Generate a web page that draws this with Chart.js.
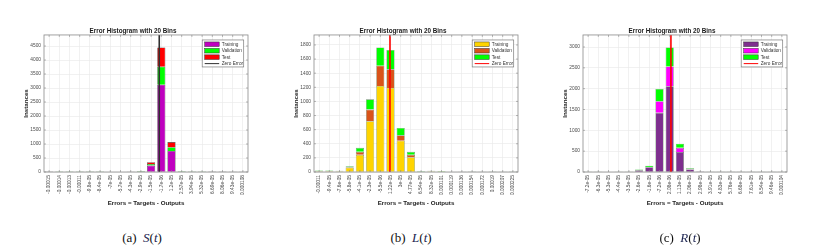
<!DOCTYPE html>
<html><head><meta charset="utf-8">
<script src="https://cdn.jsdelivr.net/npm/chart.js@4.4.1/dist/chart.umd.min.js"></script>
<style>
html,body{margin:0;padding:0;background:#fff;width:822px;height:251px;overflow:hidden}
.panel{position:absolute;top:0;width:270px;height:215px}
.panel canvas{display:block}
.cap{position:absolute;top:230px;line-height:15px;font-family:'Liberation Serif','Times New Roman',serif;font-size:13px;color:#111;white-space:nowrap;transform:translateX(-50%)}
.cap i{color:#1b2350}
</style></head><body>
<div class="panel" style="left:0px"><canvas id="c0" width="270" height="215" style="width:270px;height:215px"></canvas></div>
<div class="panel" style="left:270px"><canvas id="c1" width="270" height="215" style="width:270px;height:215px"></canvas></div>
<div class="panel" style="left:539px"><canvas id="c2" width="270" height="215" style="width:270px;height:215px"></canvas></div>
<div class="cap" style="left:142px">(a)&nbsp;&nbsp;<i>S</i>(<i>t</i>)</div>
<div class="cap" style="left:411px">(b)&nbsp;&nbsp;<i>L</i>(<i>t</i>)</div>
<div class="cap" style="left:680px">(c)&nbsp;&nbsp;<i>R</i>(<i>t</i>)</div>
<script>
// ---------- DATA ----------
const seriesNames = ['Training', 'Validation', 'Test', 'Zero Error'];

const sLabels = ['-0.00015','-0.00014','-0.00013','-0.00011','-9.8e-05','-8.4e-05','-7e-05','-5.7e-05','-4.3e-05','-2.9e-05','-1.5e-05','-1.7e-06','1.2e-05','2.57e-05','3.94e-05','5.32e-05','6.69e-05','8.06e-05','9.43e-05','0.000108'];
const sTraining   = [2,3,3,3,4,4,5,6,8,15,230,3120,750,10,4,4,3,3,2,2];
const sValidation = [3,3,3,3,3,3,3,4,10,20,55,640,135,15,8,3,2,2,2,2];
const sTest       = [0,0,0,0,0,0,0,1,2,5,65,690,185,2,1,1,1,0,0,0];

const lLabels = ['-0.00011','-9.4e-05','-7.6e-05','-5.8e-05','-4.1e-05','-2.3e-05','-5.5e-06','1.22e-05','3e-05','4.77e-05','6.54e-05','8.32e-05','0.000101','0.000119','0.000136','0.000154','0.000172','0.00019','0.000207','0.000225'];
const lTraining   = [10,12,8,62,243,720,1220,1190,443,210,4,8,7,2,3,1,1,1,1,1];
const lValidation = [3,3,3,8,43,165,285,265,77,33,1,2,1,0,1,0,0,0,0,0];
const lTest       = [8,8,6,12,57,145,260,275,105,43,4,6,5,1,2,1,0,1,0,1];

const rLabels = ['-7.2e-05','-6.3e-05','-5.3e-05','-4.4e-05','-3.5e-05','-2.6e-05','-1.6e-05','-7.2e-06','2.08e-06','1.13e-05','2.06e-05','2.98e-05','3.91e-05','4.83e-05','5.76e-05','6.68e-05','7.61e-05','8.54e-05','9.46e-05','0.000104'];
const rTraining   = [1,1,4,1,1,42,115,1420,2060,480,60,15,2,1,1,1,1,1,1,1];
const rValidation = [0,0,1,0,0,5,5,280,475,100,10,3,0,0,0,0,0,0,0,0];
const rTest       = [1,1,4,1,1,13,30,295,455,100,18,7,1,0,0,0,0,0,0,1];

const yStepSizes = [500, 200, 500];

// ---------- STYLE ----------
const FONT = "'Liberation Sans', Arial, Helvetica, sans-serif";
const styles = [
  {colors:['#bf00bf','#00ff00','#ff0000'], zero:'#303030', edge:'#3c3c3c'},
  {colors:['#ffd400','#d95319','#00ff00'], zero:'#ff0000', edge:'#6f8f6f'},
  {colors:['#7e2f8e','#ff00ff','#00ff00'], zero:'#ff0000', edge:'#5f8f5f'}
];

const matPlugin = {
  id: 'matPlugin',
  afterDatasetsDraw(chart) {
    const {ctx, chartArea: ca} = chart;
    const xs = chart.scales.x, ys = chart.scales.y;
    ctx.save();
    ctx.strokeStyle = '#8a8a8a';
    ctx.lineWidth = 0.6;
    ctx.beginPath();
    xs.ticks.forEach((t, i) => {
      const px = xs.getPixelForTick(i);
      ctx.moveTo(px, ca.bottom); ctx.lineTo(px, ca.bottom - 2);
      ctx.moveTo(px, ca.top); ctx.lineTo(px, ca.top + 2);
    });
    ys.ticks.forEach((t, i) => {
      const py = ys.getPixelForTick(i);
      ctx.moveTo(ca.left, py); ctx.lineTo(ca.left + 2, py);
      ctx.moveTo(ca.right, py); ctx.lineTo(ca.right - 2, py);
    });
    ctx.stroke();
    ctx.lineWidth = 0.8;
    ctx.strokeRect(ca.left, ca.top, ca.right - ca.left, ca.bottom - ca.top);
    // legend
    const ds = chart.data.datasets;
    const bw = 41.5, bh = 27;
    const bx = ca.right - 4.3 - bw, by = ca.top + 5;
    ctx.fillStyle = '#ffffff';
    ctx.fillRect(bx, by, bw, bh);
    ctx.strokeStyle = '#7a7a7a';
    ctx.lineWidth = 0.7;
    ctx.strokeRect(bx, by, bw, bh);
    ctx.font = '4.7px ' + FONT;
    ctx.textBaseline = 'middle';
    ctx.textAlign = 'left';
    seriesNames.forEach((name, k) => {
      const d = ds.find(q => q.label === name);
      const cy = by + 4.3 + k * 6.45;
      if (d.type === 'line') {
        ctx.strokeStyle = d.borderColor;
        ctx.lineWidth = 1;
        ctx.beginPath(); ctx.moveTo(bx + 2.5, cy); ctx.lineTo(bx + 17, cy); ctx.stroke();
      } else {
        ctx.fillStyle = d.backgroundColor;
        ctx.fillRect(bx + 2.5, cy - 2.3, 14.5, 4.6);
        ctx.strokeStyle = '#333';
        ctx.lineWidth = 0.5;
        ctx.strokeRect(bx + 2.5, cy - 2.3, 14.5, 4.6);
      }
      ctx.fillStyle = '#333';
      ctx.fillText(name, bx + 19.5, cy + 0.2);
    });
    ctx.restore();
  }
};

function makeChart(id, labels, tr, va, te, step, st) {
  const totals = tr.map((v, i) => v + va[i] + te[i]);
  const ymax = 1.1 * Math.max(...totals);
  const centers = labels.map(parseFloat);
  let z = 0;
  for (let i = 0; i < centers.length - 1; i++) {
    if (centers[i] <= 0 && centers[i + 1] > 0) { z = i + (0 - centers[i]) / (centers[i + 1] - centers[i]); break; }
  }
  const barDs = (name, data, c) => ({
    type: 'bar', label: name, data, backgroundColor: c, borderColor: st.edge, borderWidth: 0.6,
    barPercentage: 0.8, categoryPercentage: 1.0, grouped: false, stack: 'all',
    xAxisID: 'x', yAxisID: 'y', order: 1
  });
  new Chart(document.getElementById(id), {
    type: 'bar',
    data: {
      labels,
      datasets: [
        barDs(seriesNames[0], tr, st.colors[0]),
        barDs(seriesNames[1], va, st.colors[1]),
        barDs(seriesNames[2], te, st.colors[2]),
        {type: 'line', label: seriesNames[3], data: [{x: z, y: 0}, {x: z, y: ymax}], borderColor: st.zero,
         borderWidth: 1.6, pointRadius: 0, xAxisID: 'x2', yAxisID: 'y', order: 0}
      ]
    },
    options: {
      responsive: false, animation: false, devicePixelRatio: 1,
      layout: {padding: {left: 18, right: 22, top: 0, bottom: 6.3}},
      plugins: {
        legend: {display: false}, tooltip: {enabled: false},
        title: {display: true, text: 'Error Histogram with 20 Bins', color: '#1a1a1a',
                font: {family: FONT, size: 6.3, weight: 'bold'}, padding: {top: 27.4, bottom: 0}}
      },
      scales: {
        x: {type: 'category', stacked: true, offset: true,
            grid: {offset: false, color: '#e8e8e8', lineWidth: 0.6, drawTicks: false},
            border: {display: false},
            ticks: {autoSkip: false, minRotation: 90, maxRotation: 90, padding: 3, color: '#4a4a4a',
                    font: {family: FONT, size: 4.8}},
            title: {display: true, text: 'Errors = Targets - Outputs', color: '#1a1a1a',
                    font: {family: FONT, size: 6.2, weight: 'bold'}, padding: {top: 0, bottom: 2}},
            afterFit(s) { s.height = 36.7; }},
        x2: {type: 'linear', display: false, min: -0.5, max: labels.length - 0.5},
        y: {stacked: true, min: 0, max: ymax,
            grid: {color: '#e8e8e8', lineWidth: 0.6, drawTicks: false},
            border: {display: false},
            ticks: {autoSkip: false, padding: 3, color: '#4a4a4a', font: {family: FONT, size: 4.8},
                    callback: v => String(v)},
            afterBuildTicks(s) {
              const t = [];
              for (let v = 0; v <= ymax; v += step) t.push({value: v});
              s.ticks = t;
            },
            title: {display: true, text: 'Instances', color: '#1a1a1a',
                    font: {family: FONT, size: 6.2, weight: 'bold'}, padding: {top: 4.3, bottom: 0}},
            afterFit(s) { s.width = 26; }}
      }
    },
    plugins: [matPlugin]
  });
}

makeChart('c0', sLabels, sTraining, sValidation, sTest, yStepSizes[0], styles[0]);
makeChart('c1', lLabels, lTraining, lValidation, lTest, yStepSizes[1], styles[1]);
makeChart('c2', rLabels, rTraining, rValidation, rTest, yStepSizes[2], styles[2]);
</script>
</body></html>
